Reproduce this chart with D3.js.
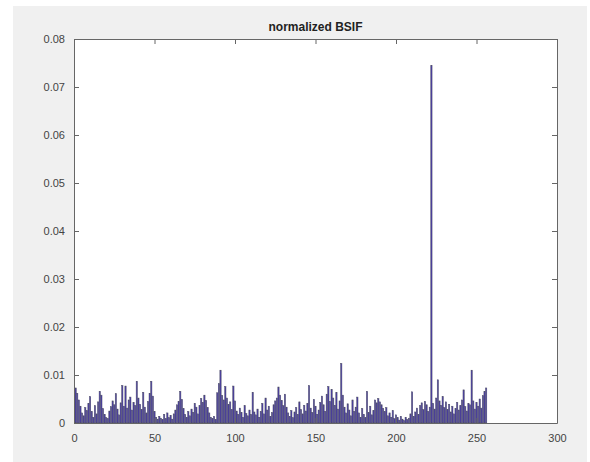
<!DOCTYPE html>
<html>
<head>
<meta charset="utf-8">
<script src="https://cdn.jsdelivr.net/npm/d3@7"></script>
<style>
	html, body { margin: 0; padding: 0; background: #fff; }
	svg text { font-family: Helvetica, "Liberation Sans", Arial, sans-serif; }
</style>
</head>
<body>
<svg class="bsif"></svg>
<script>
	var title = 'normalized BSIF',
		xTicks = [0, 50, 100, 150, 200, 250, 300],
		yTicks = [0, 0.01, 0.02, 0.03, 0.04, 0.05, 0.06, 0.07, 0.08],
		yTickLabels = ['0', '0.01', '0.02', '0.03', '0.04', '0.05', '0.06', '0.07', '0.08'];

	// bin heights, bins 1..256
	var values = [
		0.0073, 0.0062, 0.0048, 0.0035, 0.0021, 0.0015, 0.0032, 0.0026, 0.0041, 0.0055, 0.0024, 0.0012, 0.0036, 0.0019, 0.0044, 0.0066,
		0.0058, 0.0030, 0.0018, 0.0011, 0.0009, 0.0025, 0.0034, 0.0046, 0.0038, 0.0061, 0.0029, 0.0017, 0.0042, 0.0078, 0.0035, 0.0077,
		0.0031, 0.0048, 0.0054, 0.0027, 0.0043, 0.0036, 0.0087, 0.0052, 0.0039, 0.0028, 0.0064, 0.0033, 0.0021, 0.0045, 0.0062, 0.0087,
		0.0056, 0.0024, 0.0012, 0.0008, 0.0014, 0.0010, 0.0007, 0.0018, 0.0009, 0.0021, 0.0011, 0.0016, 0.0008, 0.0019, 0.0027, 0.0038,
		0.0045, 0.0066, 0.0049, 0.0030, 0.0018, 0.0012, 0.0024, 0.0015, 0.0029, 0.0022, 0.0041, 0.0033, 0.0019, 0.0036, 0.0051, 0.0043,
		0.0058, 0.0047, 0.0032, 0.0021, 0.0012, 0.0009, 0.0014, 0.0007, 0.0063, 0.0082, 0.0110, 0.0057, 0.0048, 0.0076, 0.0052, 0.0039,
		0.0044, 0.0028, 0.0077, 0.0046, 0.0025, 0.0018, 0.0031, 0.0022, 0.0012, 0.0036, 0.0020, 0.0015, 0.0027, 0.0018, 0.0064, 0.0023,
		0.0017, 0.0029, 0.0012, 0.0024, 0.0041, 0.0019, 0.0052, 0.0027, 0.0035, 0.0014, 0.0022, 0.0038, 0.0046, 0.0052, 0.0075, 0.0058,
		0.0047, 0.0036, 0.0060, 0.0033, 0.0021, 0.0014, 0.0026, 0.0011, 0.0023, 0.0032, 0.0018, 0.0044, 0.0028, 0.0019, 0.0037, 0.0025,
		0.0041, 0.0078, 0.0031, 0.0022, 0.0049, 0.0035, 0.0018, 0.0027, 0.0043, 0.0056, 0.0038, 0.0024, 0.0060, 0.0076, 0.0045, 0.0070,
		0.0052, 0.0037, 0.0064, 0.0029, 0.0046, 0.0124, 0.0058, 0.0033, 0.0021, 0.0040, 0.0027, 0.0015, 0.0048, 0.0024, 0.0033, 0.0054,
		0.0021, 0.0012, 0.0030, 0.0018, 0.0011, 0.0066, 0.0022, 0.0035, 0.0017, 0.0026, 0.0048, 0.0042, 0.0051, 0.0044, 0.0038, 0.0030,
		0.0024, 0.0032, 0.0015, 0.0021, 0.0012, 0.0026, 0.0009, 0.0017, 0.0011, 0.0006, 0.0014, 0.0008, 0.0005, 0.0012, 0.0007, 0.0010,
		0.0019, 0.0065, 0.0014, 0.0023, 0.0031, 0.0018, 0.0036, 0.0042, 0.0028, 0.0045, 0.0038, 0.0024, 0.0033, 0.0745, 0.0041, 0.0029,
		0.0052, 0.0090, 0.0046, 0.0037, 0.0055, 0.0032, 0.0044, 0.0028, 0.0039, 0.0023, 0.0035, 0.0019, 0.0030, 0.0043, 0.0027, 0.0036,
		0.0048, 0.0069, 0.0034, 0.0025, 0.0041, 0.0038, 0.0110, 0.0046, 0.0029, 0.0043, 0.0035, 0.0050, 0.0031, 0.0057, 0.0066, 0.0073
	];

	(function () {
		var width = 590,
			height = 462,
			plotLeft = 74, plotRight = 557, plotTop = 39, plotBottom = 423,
			barWidth = 0.8,
			axisColour = '#666',
			textColour = '#444';

		var svg = d3.select('.bsif')
			.attr('width', width)
			.attr('height', height);

		// figure background (white border round a grey figure)
		svg.append('rect')
			.attr('x', 13).attr('y', 6)
			.attr('width', 574).attr('height', height - 6)
			.attr('fill', '#f0f0f0');

		var x = d3.scaleLinear().domain([0, 300]).range([plotLeft, plotRight]),
			y = d3.scaleLinear().domain([0, 0.08]).range([plotBottom, plotTop]);

		svg.append('rect')
			.attr('x', plotLeft).attr('y', plotTop)
			.attr('width', plotRight - plotLeft).attr('height', plotBottom - plotTop)
			.attr('fill', '#fff');

		// bars
		svg.append('g')
			.attr('class', 'bars')
			.selectAll('rect')
			.data(values).enter()
			.append('rect')
				.attr('x', function (d, i) {return x(i + 1 - barWidth / 2);})
				.attr('width', function () {return x(barWidth) - x(0);})
				.attr('y', function (d) {return y(d);})
				.attr('height', function (d) {return y(0) - y(d);})
				.attr('fill', '#4a3da6')
				.attr('stroke', '#4d4d66')
				.attr('stroke-width', 0.5);

		// axes, ticks pointing inwards, mirrored on the box
		var tickLen = 5;

		var xAxis = svg.append('g')
			.attr('transform', 'translate(0,' + plotBottom + ')')
			.call(d3.axisBottom(x).tickValues(xTicks).tickSizeInner(-tickLen).tickSizeOuter(0).tickPadding(11));

		var xAxisTop = svg.append('g')
			.attr('transform', 'translate(0,' + plotTop + ')')
			.call(d3.axisTop(x).tickValues(xTicks).tickSizeInner(-tickLen).tickSizeOuter(0).tickFormat(''));

		var yAxis = svg.append('g')
			.attr('transform', 'translate(' + plotLeft + ',0)')
			.call(d3.axisLeft(y).tickValues(yTicks).tickSizeInner(-tickLen).tickSizeOuter(0).tickPadding(9)
				.tickFormat(function (d, i) {return yTickLabels[i];}));

		var yAxisRight = svg.append('g')
			.attr('transform', 'translate(' + plotRight + ',0)')
			.call(d3.axisRight(y).tickValues(yTicks).tickSizeInner(-tickLen).tickSizeOuter(0).tickFormat(''));

		[xAxis, xAxisTop, yAxis, yAxisRight].forEach(function (a) {
			a.select('.domain').attr('stroke', axisColour);
			a.selectAll('.tick line').attr('stroke', axisColour);
			a.selectAll('.tick text')
				.attr('fill', textColour)
				.style('font-size', '11px');
		});

		svg.append('text')
			.attr('x', (plotLeft + plotRight) / 2)
			.attr('y', plotTop - 8)
			.attr('text-anchor', 'middle')
			.attr('fill', '#222')
			.style('font-size', '12px')
			.style('font-weight', 'bold')
			.text(title);
	})();
</script>
</body>
</html>
